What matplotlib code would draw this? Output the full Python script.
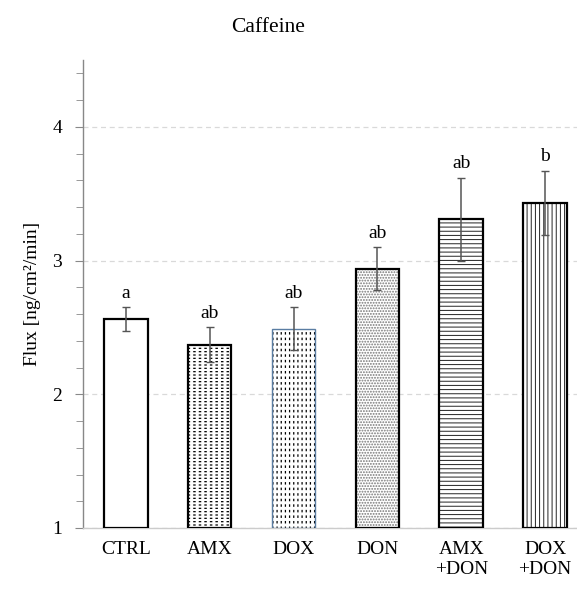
import matplotlib
matplotlib.use("Agg")
import matplotlib.pyplot as plt
from matplotlib.ticker import MultipleLocator

categories = ["CTRL", "AMX", "DOX", "DON", "AMX\n+DON", "DOX\n+DON"]
values = [2.56, 2.37, 2.49, 2.94, 3.31, 3.43]
errors = [0.09, 0.13, 0.16, 0.16, 0.31, 0.24]
letters = ["a", "ab", "ab", "ab", "ab", "b"]
yticks = [1, 2, 3, 4]

# style per bar: (hatch, hatch colour, breaker hatch for dashes, outline colour, outline width, hatch lw)
styles = [
    (None, "black", None, "black", 1.6, 0.9),
    ("-----", "black", "|||", "black", 1.6, 0.9),
    ("||||", "black", "---", "#5a7da3", 1.0, 0.9),
    ("......", "#777777", None, "black", 1.6, 0.9),
    ("----", "#222222", None, "black", 1.6, 0.7),
    ("||||", "#222222", None, "black", 1.6, 0.7),
]

plt.rcParams["font.family"] = ["Liberation Serif", "DejaVu Serif"]
fig = plt.figure(figsize=(5.77, 5.93), dpi=100)
ax = fig.add_axes([83 / 577, 65 / 593, 1 - 83 / 577, 468 / 593])

x = list(range(len(categories)))
width = 0.52


def hatch_lw(patches, lw):
    for p in patches:
        if hasattr(p, "set_hatch_linewidth"):
            p.set_hatch_linewidth(lw)


for i, (h, hc, brk, ec, elw, hlw) in enumerate(styles):
    with plt.rc_context({"hatch.linewidth": hlw}):
        b = ax.bar(x[i], values[i] - 1, bottom=1, width=width, color="white",
                   edgecolor=hc, linewidth=0, hatch=h, zorder=2)
        hatch_lw(b, hlw)
    if brk:
        with plt.rc_context({"hatch.linewidth": 2.2}):
            b2 = ax.bar(x[i], values[i] - 1, bottom=1, width=width, fill=False,
                        edgecolor="white", linewidth=0, hatch=brk, zorder=2.5)
            hatch_lw(b2, 2.2)
    ax.bar(x[i], values[i] - 1, bottom=1, width=width, fill=False,
           edgecolor=ec, linewidth=elw, zorder=3)

ax.errorbar(x, values, yerr=errors, fmt="none", ecolor="#555555",
            elinewidth=1.1, capsize=3, capthick=1.0, zorder=4)

for xi, v, e, t in zip(x, values, errors, letters):
    ax.annotate(t, (xi, v + e), xytext=(0, 4), textcoords="offset points",
                ha="center", va="bottom", fontsize=14)

ax.set_ylim(1, 4.5)
ax.set_xlim(-0.51, 5.38)
ax.set_yticks(yticks)
ax.yaxis.set_minor_locator(MultipleLocator(0.2))
ax.set_xticks(x)
ax.set_xticklabels(categories, fontsize=14, linespacing=1.25)
ax.tick_params(axis="x", length=0, pad=9)
ax.tick_params(axis="y", which="major", length=6, color="#888888", labelsize=14, pad=9)
ax.tick_params(axis="y", which="minor", length=5, color="#888888")

for s in ["top", "right"]:
    ax.spines[s].set_visible(False)
ax.spines["left"].set_color("#888888")
ax.spines["left"].set_linewidth(1.0)
ax.spines["bottom"].set_color("#cccccc")
ax.spines["bottom"].set_linewidth(1.0)

ax.yaxis.grid(True, which="major", linestyle=(0, (4, 3)), color="#d9d9d9", linewidth=0.9, zorder=0)
ax.set_axisbelow(True)

ax.set_ylabel("Flux [ng/cm²/min]", fontsize=14, labelpad=8)
fig.text(268 / 577, 1 - 27 / 593, "Caffeine", ha="center", va="center", fontsize=15.5)

fig.savefig("out.png", dpi=100)
